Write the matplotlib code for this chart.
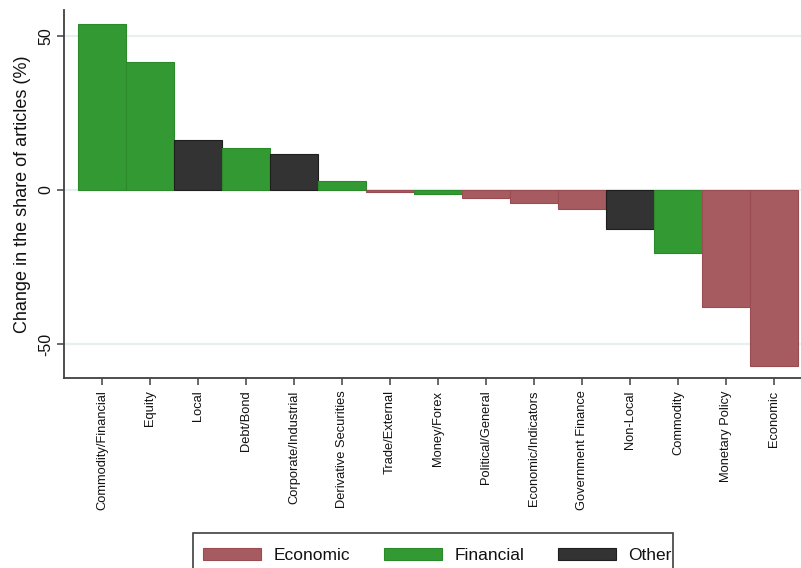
import matplotlib
matplotlib.use("Agg")
import matplotlib.pyplot as plt
from matplotlib.patches import Patch, Rectangle

plt.rcParams["font.family"] = ["Liberation Sans", "DejaVu Sans"]

categories = [
    "Commodity/Financial", "Equity", "Local", "Debt/Bond", "Corporate/Industrial",
    "Derivative Securities", "Trade/External", "Money/Forex", "Political/General",
    "Economic/Indicators", "Government Finance", "Non-Local", "Commodity",
    "Monetary Policy", "Economic",
]
changes = [54.0, 41.5, 16.3, 13.6, 11.8, 2.8, -0.7, -1.2, -2.7, -4.1, -6.2,
           -12.5, -20.3, -37.9, -57.0]
groups = ["Financial", "Financial", "Other", "Financial", "Other", "Financial",
          "Economic", "Financial", "Economic", "Economic", "Economic", "Other",
          "Financial", "Economic", "Economic"]
legend_order = ["Economic", "Financial", "Other"]
y_ticks = [-50, 0, 50]

fill = {"Economic": "#a55b5f", "Financial": "#339933", "Other": "#333333"}
edge = {"Economic": "#9a4c52", "Financial": "#2a8a2a", "Other": "#1e1e1e"}

W, H = 801, 568
fig = plt.figure(figsize=(W / 100, H / 100), dpi=100)
ax = fig.add_axes([64 / W, 1 - 378 / H, 1 - 64 / W, (378 - 10) / H])

x = list(range(len(categories)))
ax.bar(x, changes, width=1.0,
       color=[fill[g] for g in groups],
       edgecolor=[edge[g] for g in groups], linewidth=0.8, zorder=3)

ax.set_xlim(-0.79, 14.56)
ax.set_ylim(-61, 58.4)

ax.set_yticks(y_ticks)
ax.set_yticklabels([str(v) for v in y_ticks], rotation=90, va="center", fontsize=11.5)
ax.set_xticks(x)
ax.set_xticklabels(categories, rotation=90, fontsize=9.3)
ax.tick_params(axis="both", direction="out", length=5, width=1.1, color="#404040",
               labelcolor="#111111")
ax.tick_params(axis="x", pad=4)
ax.tick_params(axis="y", pad=3)

ax.yaxis.grid(True, color="#e7eff1", linewidth=1.6, zorder=0)
ax.set_axisbelow(True)

for side in ("top", "right"):
    ax.spines[side].set_visible(False)
for side in ("left", "bottom"):
    ax.spines[side].set_color("#404040")
    ax.spines[side].set_linewidth(1.3)

ax.set_ylabel("Change in the share of articles (%)", fontsize=13, color="#111111",
              labelpad=5)

# Legend box (open at the bottom edge of the figure)
fig.patches.append(Rectangle((193 / W, -0.05), (673 - 193) / W, 0.05 + 1 - 533 / H,
                             transform=fig.transFigure, facecolor="white",
                             edgecolor="#404040", linewidth=1.2, zorder=1))

handles = [Patch(facecolor=fill[g], edgecolor=edge[g], linewidth=0.8, label=g)
           for g in legend_order]
fs = 12.5
fs_px = fs * 100 / 72
leg = fig.legend(handles=handles, loc="upper left",
                 bbox_to_anchor=(203 / W, 1 - 548 / H), ncol=3, fontsize=fs,
                 frameon=False,
                 handlelength=58 / fs_px, handleheight=11 / fs_px,
                 handletextpad=13 / fs_px, columnspacing=33 / fs_px,
                 borderpad=0, borderaxespad=0)
for t in leg.get_texts():
    t.set_color("#111111")

fig.savefig("out.png", dpi=100, facecolor="white")
